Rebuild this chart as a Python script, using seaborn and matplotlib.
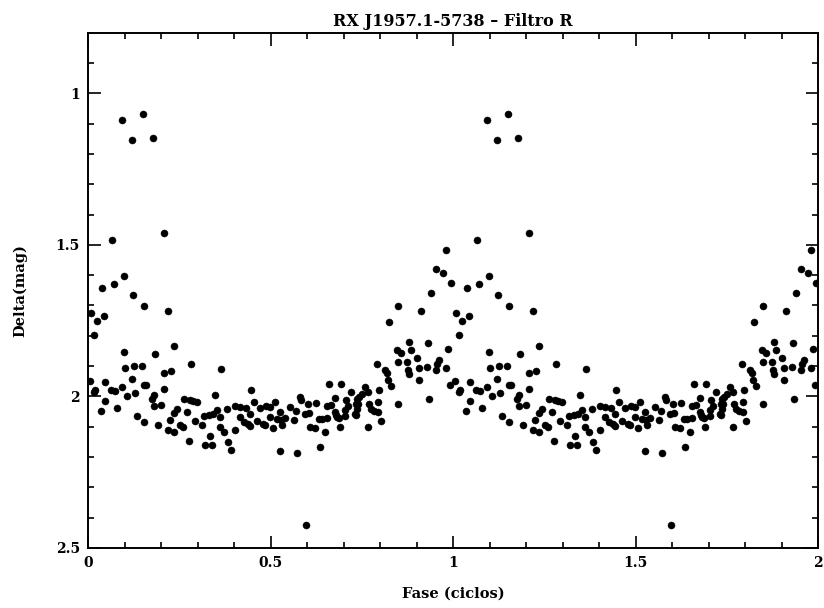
import numpy as np
import pandas as pd
import matplotlib
matplotlib.use("Agg")
import matplotlib.pyplot as plt
import seaborn as sns
from matplotlib.ticker import MultipleLocator

# Phase-folded light curve (one cycle, shown twice)
phase = [
    0.092, 0.150, 0.121, 0.178, 0.207, 0.066, 0.097, 0.037, 0.070, 0.124,
    0.154, 0.218, 0.008, 0.043, 0.025, 0.016, 0.097, 0.182, 0.235, 0.100,
    0.125, 0.147, 0.207, 0.228, 0.005, 0.119, 0.047, 0.019, 0.063, 0.074,
    0.092, 0.159, 0.152, 0.207, 0.017, 0.106, 0.127, 0.179, 0.174, 0.045,
    0.036, 0.078, 0.180, 0.200, 0.243, 0.236, 0.134, 0.225, 0.152, 0.191,
    0.218, 0.236, 0.252, 0.259, 0.365, 0.281, 0.347, 0.263, 0.278, 0.288,
    0.299, 0.272, 0.293, 0.316, 0.330, 0.343, 0.353, 0.380, 0.362, 0.311,
    0.334, 0.360, 0.371, 0.275, 0.321, 0.339, 0.384, 0.447, 0.453, 0.403,
    0.416, 0.432, 0.471, 0.487, 0.416, 0.444, 0.426, 0.439, 0.462, 0.480,
    0.403, 0.392, 0.661, 0.692, 0.581, 0.499, 0.512, 0.526, 0.553, 0.601,
    0.625, 0.654, 0.665, 0.677, 0.707, 0.497, 0.517, 0.528, 0.540, 0.570,
    0.595, 0.606, 0.631, 0.640, 0.654, 0.679, 0.686, 0.704, 0.442, 0.485,
    0.506, 0.530, 0.564, 0.608, 0.622, 0.649, 0.689, 0.526, 0.572, 0.636,
    0.721, 0.584, 0.736, 0.711, 0.733, 0.704, 0.677, 0.681, 0.733, 0.597,
    0.980, 0.952, 0.971, 0.995, 0.940, 0.848, 0.912, 0.823, 0.878, 0.932,
    0.845, 0.858, 0.885, 0.985, 0.901, 0.850, 0.873, 0.960, 0.955, 0.791,
    0.905, 0.928, 0.980, 0.952, 0.812, 0.818, 0.876, 0.879, 0.905, 0.821,
    0.830, 0.992, 0.797, 0.759, 0.766, 0.750, 0.742, 0.934, 0.850, 0.794,
    0.770, 0.775, 0.784, 0.794, 0.739, 0.736, 0.732, 0.803, 0.766,
]
delta_mag = [
    1.087, 1.067, 1.155, 1.146, 1.461, 1.485, 1.604, 1.641, 1.628, 1.667,
    1.703, 1.719, 1.725, 1.736, 1.751, 1.796, 1.854, 1.859, 1.835, 1.905,
    1.901, 1.901, 1.923, 1.916, 1.949, 1.942, 1.954, 1.978, 1.980, 1.983,
    1.969, 1.964, 1.962, 1.975, 1.986, 1.999, 1.989, 1.997, 2.008, 2.015,
    2.048, 2.037, 2.033, 2.030, 2.041, 2.055, 2.066, 2.077, 2.086, 2.093,
    2.110, 2.119, 2.096, 2.101, 1.910, 1.894, 1.997, 2.008, 2.011, 2.014,
    2.018, 2.052, 2.081, 2.066, 2.063, 2.059, 2.046, 2.041, 2.068, 2.096,
    2.131, 2.101, 2.118, 2.148, 2.162, 2.162, 2.151, 1.980, 2.019, 2.033,
    2.035, 2.037, 2.037, 2.033, 2.068, 2.059, 2.084, 2.090, 2.081, 2.092,
    2.112, 2.178, 1.958, 1.960, 2.002, 2.035, 2.019, 2.052, 2.035, 2.026,
    2.021, 2.033, 2.030, 2.006, 2.011, 2.068, 2.074, 2.077, 2.070, 2.048,
    2.057, 2.055, 2.074, 2.074, 2.071, 2.063, 2.071, 2.066, 2.099, 2.096,
    2.104, 2.096, 2.077, 2.101, 2.104, 2.118, 2.101, 2.180, 2.187, 2.167,
    1.986, 2.011, 2.008, 2.033, 2.026, 2.046, 2.052, 2.068, 2.063, 2.426,
    1.518, 1.579, 1.593, 1.626, 1.658, 1.703, 1.718, 1.756, 1.821, 1.824,
    1.846, 1.857, 1.846, 1.844, 1.872, 1.887, 1.887, 1.881, 1.894, 1.892,
    1.905, 1.903, 1.905, 1.914, 1.912, 1.923, 1.914, 1.927, 1.947, 1.945,
    1.965, 1.964, 1.978, 1.969, 1.986, 1.991, 2.002, 2.008, 2.024, 2.019,
    2.026, 2.041, 2.048, 2.052, 2.024, 2.041, 2.057, 2.081, 2.101,
]
cycles_shown = [0, 1]

title = "RX J1957.1-5738 \u2013 Filtro R"
x_label = "Fase (ciclos)"
y_label = "Delta(mag)"
x_ticks = [0, 0.5, 1, 1.5, 2]
x_tick_labels = ["0", "0.5", "1", "1.5", "2"]
y_ticks = [1, 1.5, 2, 2.5]
y_tick_labels = ["1", "1.5", "2", "2.5"]

frames = [pd.DataFrame({"fase": np.array(phase) + c, "delta": delta_mag})
          for c in cycles_shown]
df = pd.concat(frames, ignore_index=True)

sns.set_style("ticks")
plt.rcParams["font.family"] = ["DejaVu Serif"]
plt.rcParams["text.color"] = "black"
plt.rcParams["axes.labelcolor"] = "black"
plt.rcParams["xtick.color"] = "black"
plt.rcParams["ytick.color"] = "black"

fig = plt.figure(figsize=(8.24, 6.08), dpi=100)
ax = fig.add_axes([0.107, 0.099, 0.886, 0.847])

sns.scatterplot(data=df, x="fase", y="delta", ax=ax, color="black",
                s=26, edgecolor="black", linewidth=0.3, legend=False)

ax.set_xlim(0, 2)
ax.set_ylim(2.5, 0.8)
ax.set_xticks(x_ticks)
ax.set_xticklabels(x_tick_labels)
ax.set_yticks(y_ticks)
ax.set_yticklabels(y_tick_labels)
ax.xaxis.set_minor_locator(MultipleLocator(0.1))
ax.yaxis.set_minor_locator(MultipleLocator(0.1))
ax.tick_params(which="both", direction="in", top=True, right=True,
               width=1.2, colors="black", labelcolor="black")
ax.tick_params(which="major", length=9, labelsize=10, pad=6)
ax.tick_params(which="minor", length=4.5)
for lab in ax.get_xticklabels() + ax.get_yticklabels():
    lab.set_fontweight("bold")
for sp in ax.spines.values():
    sp.set_linewidth(1.4)
    sp.set_color("black")

ax.set_xlabel(x_label, fontsize=10.5, fontweight="bold", labelpad=12,
              color="black")
ax.set_ylabel(y_label, fontsize=10.5, fontweight="bold", labelpad=20,
              color="black")
ax.set_title(title, fontsize=11.5, fontweight="bold", pad=5, color="black")

fig.savefig("out.png", dpi=100, facecolor="white")
